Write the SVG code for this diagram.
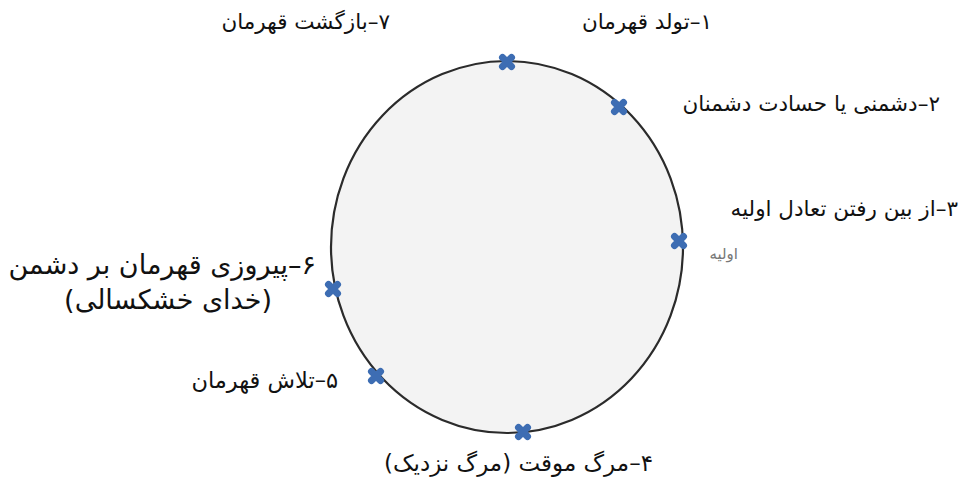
<svg xmlns="http://www.w3.org/2000/svg" width="959" height="498" viewBox="0 0 959 498">
<defs>
<style>
.lbl{font-family:"DejaVu Sans","Noto Sans",sans-serif;font-size:21.5px;fill:#111;direction:rtl;}
.big{font-size:27px;}
.small{font-family:"DejaVu Sans",sans-serif;font-size:15px;fill:#777;direction:rtl;}
.mk{stroke:#3d6db3;stroke-width:7;stroke-linecap:round;fill:none;}
</style>
<g id="m"><path class="mk" d="M-4.5,-4.5 L4.5,4.5 M4.5,-4.5 L-4.5,4.5"/></g>
</defs>
<rect width="959" height="498" fill="#ffffff"/>
<g id="cycle">
<ellipse cx="507" cy="247" rx="176" ry="186" fill="#f3f3f3" stroke="#2b2b2b" stroke-width="2.2"/>
</g>
<g id="connectors"></g>
<g id="n1"><use href="#m" x="507" y="62"/><text class="lbl" x="712" y="29" text-anchor="start">۱–تولد قهرمان</text></g>
<g id="n2"><use href="#m" x="619" y="107"/><text class="lbl" x="940" y="111" text-anchor="start">۲–دشمنی یا حسادت دشمنان</text></g>
<g id="n3"><use href="#m" x="679" y="241"/><text class="lbl" x="958" y="216" text-anchor="start">۳–از بین رفتن تعادل اولیه</text><text class="small" x="738" y="259" text-anchor="start">اولیه</text></g>
<g id="n4"><use href="#m" x="523" y="432"/><text class="lbl" x="653" y="471" text-anchor="start" style="font-size:23px">۴–مرگ موقت (مرگ نزدیک)</text></g>
<g id="n5"><use href="#m" x="376" y="376"/><text class="lbl" x="338" y="388" text-anchor="start" style="font-size:22.5px">۵–تلاش قهرمان</text></g>
<g id="n6"><use href="#m" x="333" y="289"/><text class="lbl big" x="316" y="274" text-anchor="start">۶–پیروزی قهرمان بر دشمن</text><text class="lbl big" x="272" y="309" text-anchor="start">(خدای خشکسالی)</text></g>
<g id="n7"><text class="lbl" x="390" y="29" text-anchor="start">۷–بازگشت قهرمان</text></g>
</svg>
